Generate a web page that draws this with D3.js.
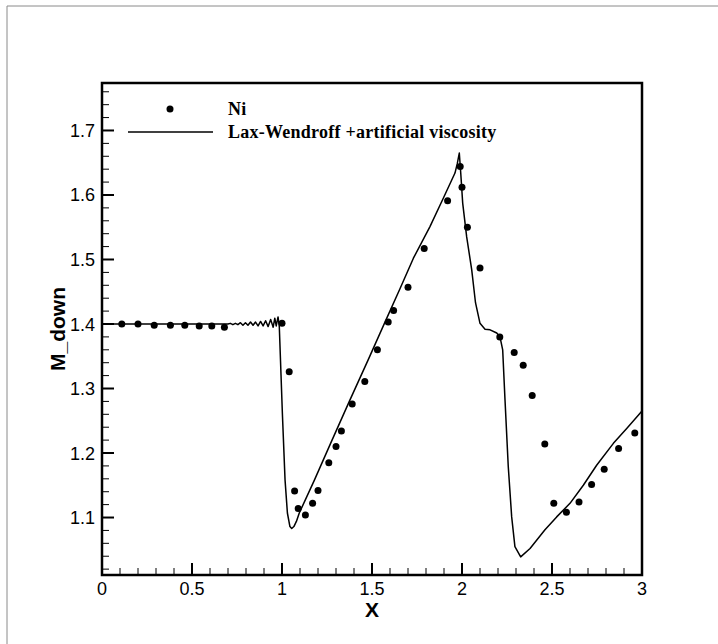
<!DOCTYPE html>
<html>
<head>
<meta charset="utf-8">
<script src="https://cdn.jsdelivr.net/npm/d3@7"></script>
<style>
    body { margin: 0; background: #fff; }
    svg { display: block; }
    .tick-label { font-family: "Liberation Sans", Arial, sans-serif; font-size: 18px; fill: #000; }
    .axis-title { font-family: "Liberation Sans", Arial, sans-serif; font-size: 21px; font-weight: bold; fill: #000; }
    .legend-text { font-family: "Liberation Serif", "Times New Roman", serif; font-size: 18px; font-weight: bold;
                   letter-spacing: 0.25px; fill: #000; }
</style>
</head>
<body>
<svg id="chart" width="718" height="644"></svg>
<script>

// Ni measurements
let niX = [0.11, 0.20, 0.29, 0.38, 0.46, 0.54, 0.61, 0.68, 1.00, 1.04,
           1.07, 1.09, 1.13, 1.17, 1.20, 1.26, 1.30, 1.33, 1.39, 1.46,
           1.53, 1.59, 1.62, 1.70, 1.79, 1.92, 1.99, 2.00, 2.03, 2.10,
           2.21, 2.29, 2.34, 2.39, 2.46, 2.51, 2.58, 2.65, 2.72, 2.79,
           2.87, 2.96];
let niY = [1.400, 1.400, 1.398, 1.398, 1.398, 1.397, 1.397, 1.395, 1.401, 1.326,
           1.141, 1.114, 1.104, 1.122, 1.142, 1.185, 1.210, 1.234, 1.276, 1.311,
           1.360, 1.403, 1.421, 1.457, 1.517, 1.591, 1.644, 1.612, 1.550, 1.487,
           1.380, 1.356, 1.336, 1.289, 1.214, 1.122, 1.108, 1.124, 1.151, 1.175,
           1.207, 1.231];

// Lax-Wendroff + artificial viscosity solution
let lwX = [0.00, 0.70, 0.713, 0.727, 0.741, 0.755, 0.769, 0.783, 0.797, 0.811,
           0.825, 0.839, 0.853, 0.867, 0.881, 0.895, 0.909, 0.923, 0.937, 0.951,
           0.960, 0.968, 0.978, 0.985, 1.002, 1.017, 1.030, 1.044, 1.054, 1.066,
           1.080, 1.096, 1.180, 1.270, 1.374, 1.478, 1.574, 1.656, 1.730, 1.822,
           1.896, 1.961, 1.974, 1.985, 1.993, 2.004, 2.026, 2.054, 2.075, 2.100,
           2.128, 2.156, 2.193, 2.211, 2.226, 2.239, 2.257, 2.276, 2.294, 2.326,
           2.378, 2.461, 2.526, 2.600, 2.674, 2.748, 2.841, 2.915, 3.000];
let lwY = [1.400, 1.400, 1.401, 1.399, 1.401, 1.399, 1.402, 1.398, 1.402, 1.398,
           1.403, 1.398, 1.403, 1.397, 1.404, 1.397, 1.405, 1.396, 1.407, 1.395,
           1.409, 1.397, 1.411, 1.396, 1.262, 1.158, 1.107, 1.086, 1.083, 1.086,
           1.094, 1.107, 1.158, 1.215, 1.280, 1.344, 1.404, 1.455, 1.502, 1.551,
           1.595, 1.634, 1.649, 1.665, 1.634, 1.587, 1.535, 1.484, 1.433, 1.401,
           1.392, 1.391, 1.386, 1.380, 1.360, 1.282, 1.179, 1.101, 1.055, 1.039,
           1.052, 1.081, 1.101, 1.122, 1.150, 1.181, 1.215, 1.238, 1.265];

let xTicks = [0, 0.5, 1, 1.5, 2, 2.5, 3];
let xTickLabels = ["0", "0.5", "1", "1.5", "2", "2.5", "3"];
let yTicks = [1.1, 1.2, 1.3, 1.4, 1.5, 1.6, 1.7];
let yTickLabels = ["1.1", "1.2", "1.3", "1.4", "1.5", "1.6", "1.7"];

let legendNames = ["Ni", "Lax-Wendroff +artificial viscosity"];

let svg = d3.select("#chart");

// gray page frame (top and left edges only are visible)
svg.append("line").attr("x1", 7).attr("y1", 6).attr("x2", 718).attr("y2", 6)
    .attr("stroke", "#8a8a8a").attr("stroke-width", 1);
svg.append("line").attr("x1", 7).attr("y1", 6).attr("x2", 7).attr("y2", 644)
    .attr("stroke", "#8a8a8a").attr("stroke-width", 1);

let plotLeft = 102, plotRight = 642, plotTop = 83, plotBottom = 575;

let x = d3.scaleLinear().domain([0, 3]).range([plotLeft, plotRight]);
let y = d3.scaleLinear().domain([1.0109, 1.7736]).range([plotBottom, plotTop]);

// minor ticks
let xMinor = d3.range(0, 31).map(i => i / 10).filter(v => Math.abs(v * 2 - Math.round(v * 2)) > 1e-6);
let yMinor = d3.range(51, 89).map(i => i / 50)
    .filter(v => Math.abs(v * 10 - Math.round(v * 10)) > 1e-6 && y(v) >= plotTop && y(v) <= plotBottom);

svg.append("g").selectAll("line").data(xMinor).enter().append("line")
    .attr("x1", d => x(d)).attr("x2", d => x(d))
    .attr("y1", plotBottom).attr("y2", plotBottom - 7)
    .attr("stroke", "#000").attr("stroke-width", 1);

svg.append("g").selectAll("line").data(yMinor).enter().append("line")
    .attr("x1", plotLeft).attr("x2", plotLeft + 7)
    .attr("y1", d => y(d)).attr("y2", d => y(d))
    .attr("stroke", "#000").attr("stroke-width", 1);

// major ticks
svg.append("g").selectAll("line").data(xTicks).enter().append("line")
    .attr("x1", d => x(d)).attr("x2", d => x(d))
    .attr("y1", plotBottom).attr("y2", plotBottom - 12)
    .attr("stroke", "#000").attr("stroke-width", 2);

svg.append("g").selectAll("line").data(yTicks).enter().append("line")
    .attr("x1", plotLeft).attr("x2", plotLeft + 12)
    .attr("y1", d => y(d)).attr("y2", d => y(d))
    .attr("stroke", "#000").attr("stroke-width", 2);

// tick labels
svg.append("g").selectAll("text").data(xTicks).enter().append("text")
    .attr("class", "tick-label")
    .attr("x", d => x(d)).attr("y", plotBottom + 20)
    .attr("text-anchor", "middle")
    .text((d, i) => xTickLabels[i]);

svg.append("g").selectAll("text").data(yTicks).enter().append("text")
    .attr("class", "tick-label")
    .attr("x", plotLeft - 7).attr("y", d => y(d) + 6.5)
    .attr("text-anchor", "end")
    .text((d, i) => yTickLabels[i]);

// axis titles
svg.append("text").attr("class", "axis-title")
    .attr("x", (plotLeft + plotRight) / 2).attr("y", plotBottom + 42)
    .attr("text-anchor", "middle").text("X");

svg.append("text").attr("class", "axis-title")
    .attr("transform", "translate(" + 65 + "," + ((plotTop + plotBottom) / 2) + ") rotate(-90)")
    .attr("text-anchor", "middle").text("M_down");

// solution line
let lineData = lwX.map((d, i) => [d, lwY[i]]);
let line = d3.line().x(d => x(d[0])).y(d => y(d[1]));

svg.append("path").datum(lineData)
    .attr("d", line)
    .attr("fill", "none").attr("stroke", "#000")
    .attr("stroke-width", 1.5).attr("stroke-linejoin", "round");

// Ni points
let niData = niX.map((d, i) => [d, niY[i]]);
svg.append("g").selectAll("circle").data(niData).enter().append("circle")
    .attr("cx", d => x(d[0])).attr("cy", d => y(d[1]))
    .attr("r", 3.5).attr("fill", "#000");

// plot frame
svg.append("rect")
    .attr("x", plotLeft).attr("y", plotTop)
    .attr("width", plotRight - plotLeft).attr("height", plotBottom - plotTop)
    .attr("fill", "none").attr("stroke", "#000").attr("stroke-width", 2.5);

// legend
svg.append("circle").attr("cx", 170).attr("cy", 109).attr("r", 3.5).attr("fill", "#000");
svg.append("line").attr("x1", 128).attr("x2", 213).attr("y1", 132).attr("y2", 132)
    .attr("stroke", "#000").attr("stroke-width", 1.5);

svg.append("g").selectAll("text").data(legendNames).enter().append("text")
    .attr("class", "legend-text")
    .attr("x", 228).attr("y", (d, i) => 115 + i * 23)
    .text(d => d);

</script>
</body>
</html>
